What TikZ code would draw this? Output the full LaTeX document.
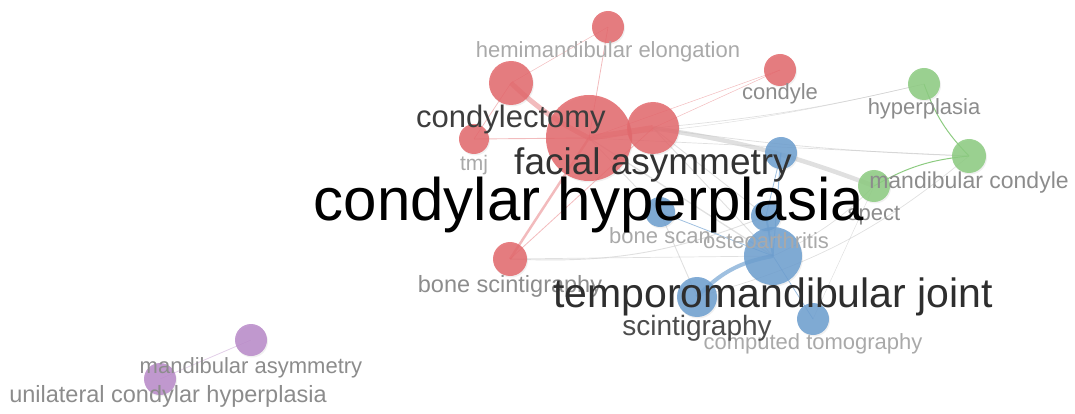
\documentclass[tikz,border=0pt]{standalone}
\usepackage{fontspec}
\setmainfont{Liberation Sans}
\usetikzlibrary{backgrounds,shadows}
\definecolor{cred}{HTML}{E3686C}
\definecolor{cblue}{HTML}{6C9ECF}
\definecolor{cgreen}{HTML}{8CCB80}
\definecolor{cpurple}{HTML}{B98AC9}
\definecolor{lgrey}{HTML}{A9A9A9}
\definecolor{mgrey}{HTML}{8C8C8C}
\definecolor{lnk}{HTML}{C6C6C6}

\begin{document}
\begin{tikzpicture}[x=1pt,y=-1pt,
  dot/.style={circle,inner sep=0pt,minimum size=#1,fill opacity=.85,
    drop shadow={opacity=.12,shadow xshift=1pt,shadow yshift=-1.5pt}},
  lbl/.style={font=\fontsize{#1}{#1}\selectfont,anchor=base,inner sep=0pt},
  rl/.style={draw=cred,line width=#1,opacity=.45},
  gl/.style={draw=lnk,line width=#1,opacity=.55},
  bl/.style={draw=cblue,line width=#1,opacity=.65},
  grl/.style={draw=cgreen,line width=#1},
  pl/.style={draw=cpurple!40,line width=#1}]
  \useasboundingbox (0,0) rectangle (1075,414);
  % items
  \foreach \n/\x/\y/\d/\c in {
    he/608/27/32/cred, cl/511/83/44/cred, ch/589/138/86/cred, fa/653/128/52/cred,
    tm/474/139/30/cred, cd/780/70/32/cred, bsc/510/259/34/cred,
    b0/781/153/32/cblue, bsn/660/212/30/cblue, oa/766/216/30/cblue,
    tj/773/256/58/cblue, sc/697/297/40/cblue, co/813/319/32/cblue,
    hy/924/84/32/cgreen, mc/969/156/34/cgreen, sp/874/186/32/cgreen,
    ma/251/340/32/cpurple, uc/160/379/32/cpurple}
    {\node[dot=\d,fill=\c] (\n) at (\x,\y) {};}
  % links
  \begin{scope}[on background layer]
    \draw[gl=.7] (fa.center) to[bend right=4] (hy.center);
    \draw[gl=.5] (ch.center) to[bend right=4] (hy.center);
    \draw[gl=.8] (fa.center) to[bend right=3] (mc.center);
    \draw[gl=.7] (ch.center) -- (mc.center);
    \draw[gl=4.5] (fa.center) to[bend left=6] (sp.center);
    \draw[gl=1.3] (ch.center) -- (tj.center);
    \draw[gl=.9] (fa.center) -- (tj.center);
    \draw[gl=.9] (fa.center) -- (oa.center);
    \draw[gl=.9] (ch.center) -- (bsn.center);
    \draw[gl=.9] (bsn.center) -- (sc.center);
    \draw[gl=.9] (bsc.center) to[bend right=12] (oa.center);
    \draw[gl=.7] (bsc.center) -- (tj.center);
    \draw[gl=.7] (sp.center) to[bend left=10] (tj.center);
    \draw[gl=.7] (mc.center) to[bend left=12] (sc.center);
    \draw[gl=.5] (sp.center) -- (co.center);
    \draw[rl=.5] (he.center) -- (cl.center);
    \draw[rl=.8] (he.center) -- (ch.center);
    \draw[rl=.5] (cd.center) -- (ch.center);
    \draw[rl=.5] (cd.center) -- (fa.center);
    \draw[rl=.7] (tm.center) -- (cl.center);
    \draw[rl=.9] (tm.center) -- (ch.center);
    \draw[rl=2.5] (bsc.center) -- (ch.center);
    \draw[rl=.8] (bsc.center) -- (fa.center);
    \draw[rl=5] (cl.center) to[bend right=8] (ch.center);
    \draw[rl=6] (ch.center) -- (fa.center);
    \draw[bl=4] (sc.center) to[bend left=18] (tj.center);
    \draw[bl=2] (tj.center) -- (oa.center);
    \draw[bl=1] (tj.center) -- (b0.center);
    \draw[bl=.8] (tj.center) -- (co.center);
    \draw[bl=.8] (bsn.center) -- (tj.center);
    \draw[bl=.8] (b0.center) -- (oa.center);
    \draw[grl=1] (hy.center) to[bend right=12] (mc.center);
    \draw[grl=1] (mc.center) to[bend right=12] (sp.center);
    \draw[pl=.8] (ma.center) -- (uc.center);
  \end{scope}
  % labels
  \foreach \n/\x/\y/\s/\c/\txt in {
    he/608/58/22/lgrey/hemimandibular elongation, tm/474/171/21/lgrey/tmj,
    cd/780/100/22/mgrey/condyle, hy/924/115/22/mgrey/hyperplasia,
    sp/874/220/22/mgrey/spect, mc/969/188/23/mgrey/mandibular condyle,
    bsn/660/243/22/lgrey/bone scan, oa/766/248/22/lgrey/osteoarthritis,
    bsc/510/292/23.5/mgrey/bone scintigraphy, co/813/349/22/lgrey/computed tomography,
    ma/251/373/22/mgrey/mandibular asymmetry, uc/168/402/23.5/mgrey/unilateral condylar hyperplasia,
    cl/511/128/31/black!76/condylectomy, sc/697/335/28/black!70/scintigraphy,
    fa/653/175/37/black!80/facial asymmetry, tj/773/307/41/black!82/temporomandibular joint,
    ch/589/220/60/black/condylar hyperplasia}
    {\node[lbl=\s,text=\c] (l\n) at (\x,\y) {\txt};}
\end{tikzpicture}
\end{document}
